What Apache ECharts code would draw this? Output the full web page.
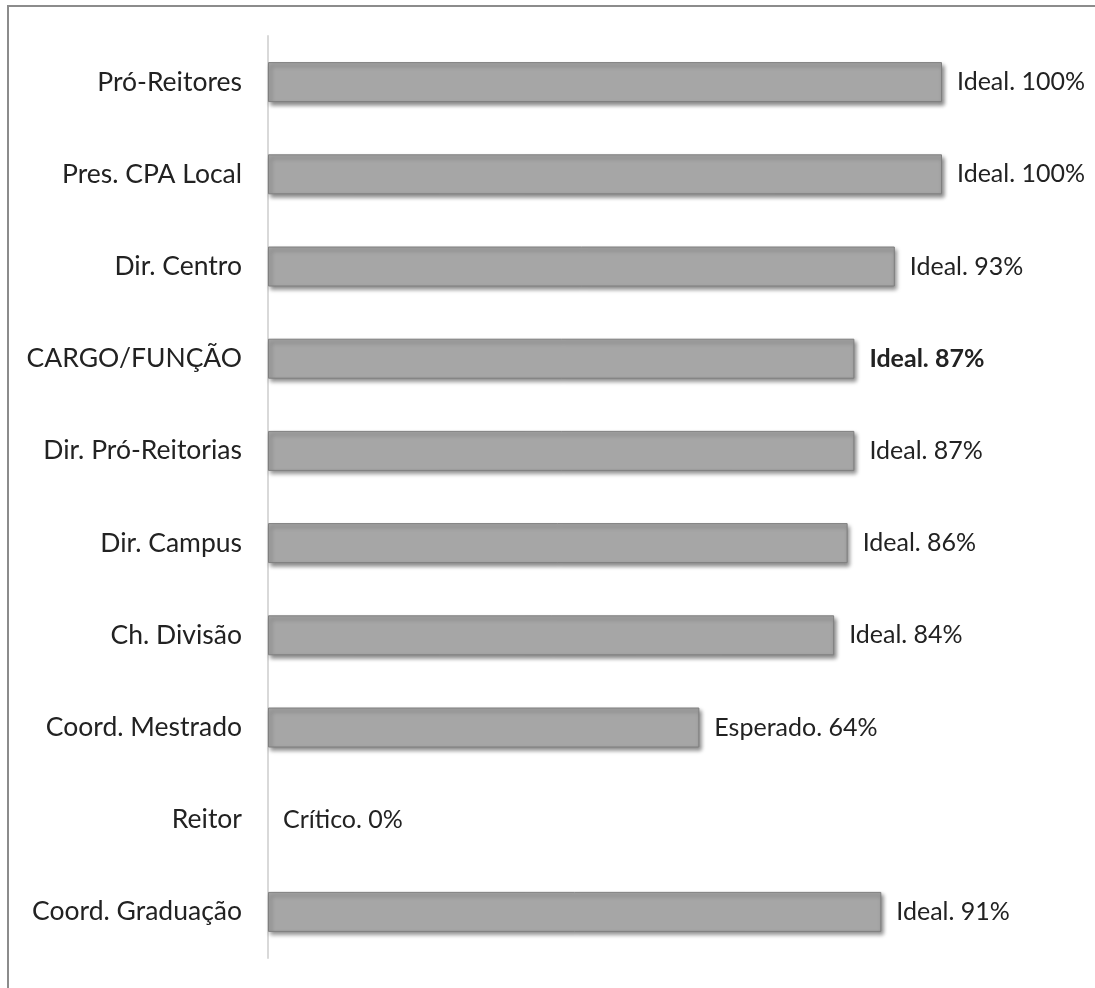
<!DOCTYPE html>
<html>
<head>
<meta charset="utf-8">
<script src="https://cdn.jsdelivr.net/npm/echarts@6/dist/echarts.min.js"></script>
<style>
  html, body { margin: 0; padding: 0; background: #fff; }
  #chart { width: 1095px; height: 988px; }
</style>
</head>
<body>
<div id="chart"></div>
<script>
// dados (de cima para baixo)
const categories = ['Pró-Reitores', 'Pres. CPA Local', 'Dir. Centro', 'CARGO/FUNÇÃO', 'Dir. Pró-Reitorias',
  'Dir. Campus', 'Ch. Divisão', 'Coord. Mestrado', 'Reitor', 'Coord. Graduação']
const values = [100, 100, 93, 87, 87, 86, 84, 64, 0, 91]
const status = ['Ideal', 'Ideal', 'Ideal', 'Ideal', 'Ideal', 'Ideal', 'Ideal', 'Esperado', 'Crítico', 'Ideal']
const boldIndex = 3

const font = 'Lato, "Noto Sans", sans-serif'

let myChart = echarts.init(document.getElementById('chart'))
myChart.setOption({
  animation: false,
  grid: {
    left: 268,
    right: 153,
    top: 36,
    bottom: 30
  },
  xAxis: {
    type: 'value',
    min: 0,
    max: 100,
    show: false
  },
  yAxis: {
    type: 'category',
    data: categories,
    inverse: true,
    axisTick: { show: false },
    axisLine: { lineStyle: { color: '#d9d9d9', width: 2 } },
    axisLabel: {
      margin: 26,
      fontFamily: font,
      fontSize: 26.5,
      color: '#222'
    }
  },
  graphic: [
    {
      type: 'rect',
      silent: true,
      shape: { x: 8, y: 6, width: 1200, height: 1200 },
      style: { fill: 'none', stroke: '#8c8c8c', lineWidth: 2 }
    }
  ],
  series: [
    {
      type: 'bar',
      barWidth: 40,
      data: values.map((v, i) => ({
        value: v,
        label: i === boldIndex ? { fontWeight: 'bold' } : undefined,
        // barra zero: sem contorno nem sombra, mas com rótulo
        itemStyle: v === 0 ? { color: 'rgba(0,0,0,0)', borderWidth: 0, shadowColor: 'rgba(0,0,0,0)' } : undefined
      })),
      itemStyle: {
        color: '#a6a6a6',
        borderColor: '#7f7f7f',
        borderWidth: 1,
        shadowColor: 'rgba(0,0,0,0.45)',
        shadowBlur: 4,
        shadowOffsetX: 2,
        shadowOffsetY: 3
      },
      label: {
        show: true,
        position: 'right',
        distance: 15,
        fontFamily: font,
        fontSize: 25,
        color: '#222',
        formatter: p => status[p.dataIndex] + '. ' + p.value + '%'
      }
    }
  ]
})
</script>
</body>
</html>
